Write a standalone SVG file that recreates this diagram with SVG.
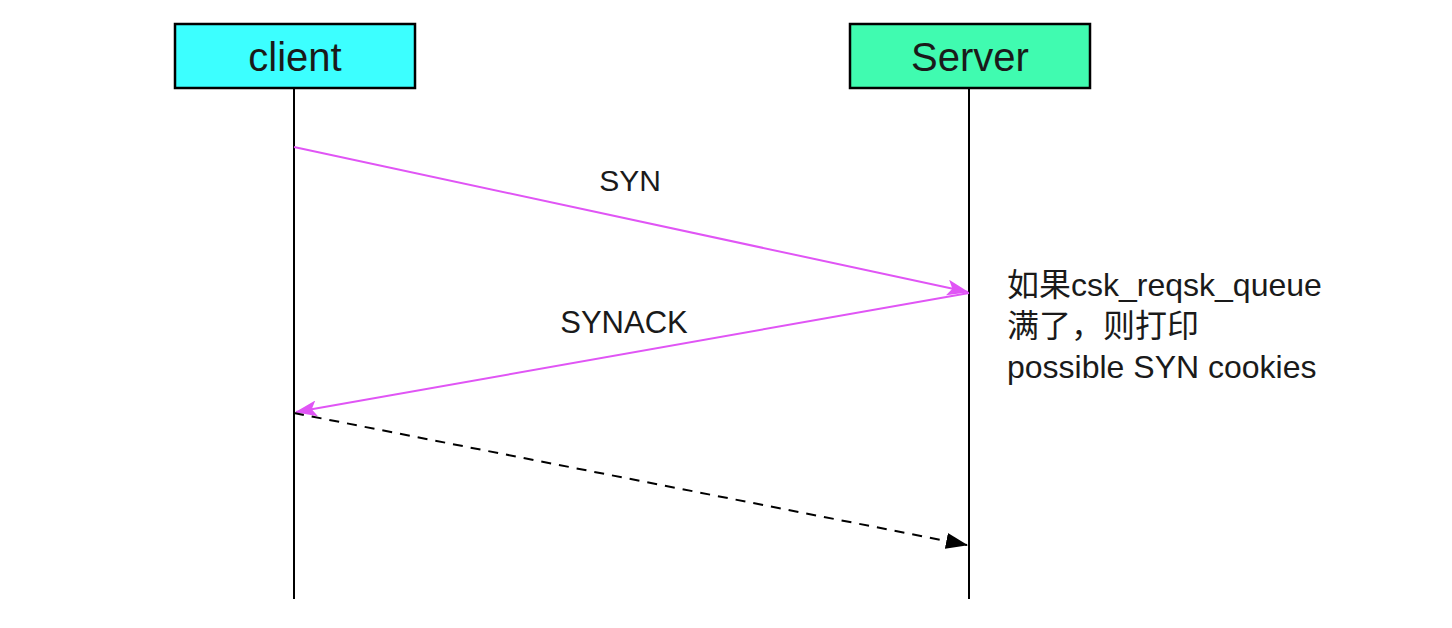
<svg xmlns="http://www.w3.org/2000/svg" width="1452" height="628" viewBox="0 0 1452 628">
<defs>
<style>
.box{stroke:#000;stroke-width:2.5}
.life{stroke:#000;stroke-width:2;fill:none}
.msg{stroke:#E055F5;stroke-width:2;fill:none}
.ret{stroke:#000;stroke-width:2;fill:none;stroke-dasharray:10 8}
.t{font-family:"Liberation Sans",Arial,"Noto Sans CJK SC",sans-serif;fill:#1a1a1a}
</style>
<marker id="ap" markerWidth="22" markerHeight="16" refX="21" refY="8" orient="auto" markerUnits="userSpaceOnUse">
<path d="M0,0 L22,8 L0,16 L5,8 Z" fill="#E055F5"/>
</marker>
<marker id="ab" markerWidth="22" markerHeight="16" refX="21" refY="8" orient="auto" markerUnits="userSpaceOnUse">
<path d="M0,0 L22,8 L0,16 Z" fill="#000"/>
</marker>
</defs>
<rect width="1452" height="628" fill="#fff"/>
<g id="client">
<rect class="box" x="175" y="24" width="240" height="64" fill="#3CFFFF"/>
<text class="t" x="295" y="71" font-size="40" text-anchor="middle">client</text>
<line class="life" x1="294" y1="88" x2="294" y2="599"/>
</g>
<g id="server">
<rect class="box" x="850" y="24" width="240" height="64" fill="#40FBB0"/>
<text class="t" x="970" y="71" font-size="40" text-anchor="middle">Server</text>
<line class="life" x1="969" y1="88" x2="969" y2="599"/>
</g>
<g id="connectors">
<line class="msg" x1="294" y1="147" x2="968" y2="292" marker-end="url(#ap)"/>
<line class="msg" x1="969" y1="293" x2="296" y2="412" marker-end="url(#ap)"/>
<line class="ret" x1="294" y1="413" x2="967" y2="545" marker-end="url(#ab)"/>
</g>
<g id="labels">
<text class="t" x="630" y="191" font-size="30" text-anchor="middle">SYN</text>
<text class="t" x="624" y="333" font-size="31" text-anchor="middle">SYNACK</text>
</g>
<g id="note">
<text class="t" x="1007" y="296" font-size="32">如果csk_reqsk_queue</text>
<text class="t" x="1007" y="337" font-size="32">满了，则打印</text>
<text class="t" x="1007" y="378" font-size="32">possible SYN cookies</text>
</g>
</svg>
